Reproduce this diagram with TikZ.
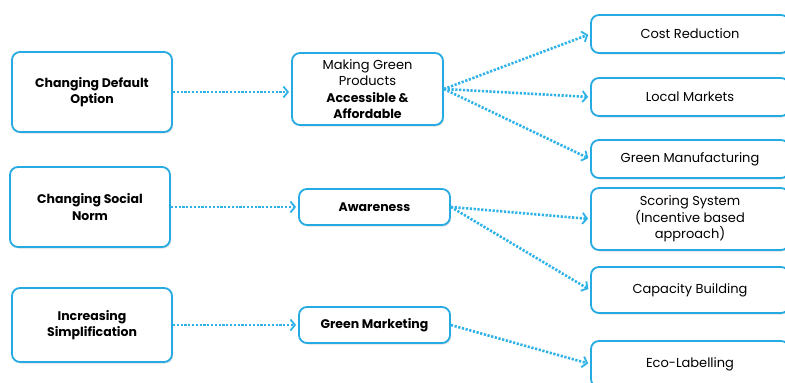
\documentclass[tikz,border=0pt]{standalone}
\usepackage{fontspec}
\setmainfont{Poppins}
\usetikzlibrary{arrows.meta,shadows}
\definecolor{bblue}{RGB}{38,170,226}
\definecolor{lblue}{RGB}{45,178,232}
\tikzset{
  box/.style={draw=bblue, line width=1.8pt, rounded corners=8pt, fill=white, align=center,
    font=\fontsize{13}{16.5}\selectfont, inner sep=0pt,
    drop shadow={opacity=0.25, shadow xshift=1.2pt, shadow yshift=-1.5pt}},
  lbox/.style={box, font=\fontsize{12.5}{16.5}\selectfont\bfseries},
  link/.style={draw=lblue, line width=2.6pt, dash pattern=on 2.2pt off 1.6pt,
    -{Straight Barb[length=4.5pt,width=11pt,line width=1.8pt]}, shorten >=2pt}
}
\begin{document}
\begin{tikzpicture}[x=1pt,y=-1pt]
\useasboundingbox (0,0) rectangle (785,383);
\clip (0,0) rectangle (785,383);
% left column
\node[lbox, minimum width=160pt, minimum height=80pt] (cdo) at (92,92) {Changing Default\\Option};
\node[lbox, minimum width=160pt, minimum height=80pt] (csn) at (90,207) {Changing Social\\Norm};
\node[lbox, minimum width=160pt, minimum height=74pt] (is) at (92,325) {Increasing\\Simplification};
% middle column
\node[box, minimum width=151pt, minimum height=72pt] (mg) at (367.5,89) {Making Green\\Products\\{\bfseries\fontsize{12.5}{16.5}\selectfont Accessible \&}\\{\bfseries\fontsize{12.5}{16.5}\selectfont Affordable}};
\node[lbox, minimum width=151pt, minimum height=36pt] (aw) at (374.5,207) {Awareness};
\node[lbox, minimum width=151pt, minimum height=36pt] (gm) at (374.5,325) {Green Marketing};
% right column
\node[box, minimum width=198pt, minimum height=38pt] (cr) at (690,34) {Cost Reduction};
\node[box, minimum width=198pt, minimum height=38pt] (lm) at (690,97) {Local Markets};
\node[box, minimum width=198pt, minimum height=38pt] (gmf) at (690,159) {Green Manufacturing};
\node[box, minimum width=198pt, minimum height=62pt] (ss) at (690,219) {Scoring System\\(Incentive based\\approach)};
\node[box, minimum width=198pt, minimum height=46pt] (cb) at (690,290) {Capacity Building};
\node[box, minimum width=198pt, minimum height=46pt] (el) at (690,364) {Eco-Labelling};
% links
\draw[link] (cdo.east) -- (mg.west |- cdo.east);
\draw[link] (csn.east) -- (aw.west);
\draw[link] (is.east) -- (gm.west);
\draw[link] (mg.east) -- (cr.west);
\draw[link] (mg.east) -- (lm.west);
\draw[link] (mg.east) -- (gmf.west);
\draw[link] (aw.east) -- (ss.west);
\draw[link] (aw.east) -- (cb.west);
\draw[link] (gm.east) -- (el.west);
\end{tikzpicture}
\end{document}
